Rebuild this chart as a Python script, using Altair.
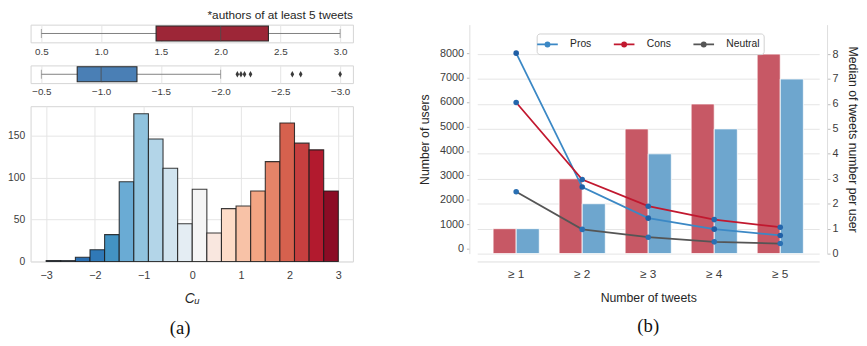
import altair as alt
import pandas as pd

# ---------------- data ----------------
# (a) top: box plots of C_u (authors of at least 5 tweets)
pos_stats = {"lo": 0.5, "q1": 1.46, "med": 2.0, "q3": 2.4, "hi": 3.0}
neg_stats = {"lo": -0.5, "q1": -0.8, "med": -1.0, "q3": -1.3, "hi": -2.0}
neg_fliers = [-2.14, -2.17, -2.2, -2.25, -2.6, -2.67, -3.0]
pos_ticks = [0.5, 1.0, 1.5, 2.0, 2.5, 3.0]
neg_ticks = [-0.5, -1.0, -1.5, -2.0, -2.5, -3.0]

# (a) bottom: histogram of C_u
bin_lo = [-3.0, -2.7, -2.4, -2.1, -1.8, -1.5, -1.2, -0.9, -0.6, -0.3,
          0.0, 0.3, 0.6, 0.9, 1.2, 1.5, 1.8, 2.1, 2.4, 2.7]
bin_hi = [-2.7, -2.4, -2.1, -1.8, -1.5, -1.2, -0.9, -0.6, -0.3, 0.0,
          0.3, 0.6, 0.9, 1.2, 1.5, 1.8, 2.1, 2.4, 2.7, 3.0]
bin_count = [1, 1, 5, 14, 32, 95, 176, 146, 111, 45,
             86, 34, 63, 66, 84, 119, 165, 141, 133, 84]

# (b)
tweet_bins = ["≥ 1", "≥ 2", "≥ 3", "≥ 4", "≥ 5"]
users_pros = [8000, 2520, 1250, 800, 540]
users_cons = [5980, 2830, 1740, 1190, 880]
users_neutral = [2330, 790, 470, 280, 210]
median_cons = [1, 3, 5, 6, 8]
median_pros = [1, 2, 4, 5, 7]

# ---------------- styles ----------------
FONT = "Liberation Sans"
LBL = "#3c3c3c"
TTL = "#262626"
GRID = "#e4e4e4"
hist_palette = ["#1f5fa6", "#2466ac", "#2a6fb2", "#3079b7", "#4393c3",
                "#6aabd4", "#90c3de", "#b3d5e8", "#d1e4ef", "#e4edf3",
                "#f5f5f5", "#f9e7df", "#fddcc8", "#f8c2a7", "#f3a583",
                "#e58468", "#d6614e", "#c63f3f", "#b21a2e", "#8c0c25"]
BOX_RED = "#9d2637"
BOX_BLUE = "#4a7fb5"
BAR_RED = "#c75865"
BAR_BLUE = "#6ea6ce"
LINE_COLORS = ["#3b88c5", "#c1182f", "#555555"]
SERIES = ["Pros", "Cons", "Neutral"]

W_L, H_BOX, H_HIST = 328, 18, 158
W_R, H_R = 348, 233


def box_panel(stats, fliers, fill, domain, reverse, ticks, title=None):
    df = pd.DataFrame([dict(stats, g="g")])
    xs = alt.Scale(domain=domain, reverse=reverse, nice=False, zero=False)
    ys = alt.Scale(domain=["g"], paddingInner=0, paddingOuter=0.09)
    xaxis = alt.Axis(values=ticks, format=".1f", grid=True, gridColor=GRID,
                     ticks=False, domain=False, labelPadding=4, labelFontSize=10,
                     labelColor=LBL, title=None)
    y = alt.Y("g:N", scale=ys, axis=None)
    base = alt.Chart(df)
    whisker = base.mark_rule(color="#808080", strokeWidth=1).encode(
        x=alt.X("lo:Q", scale=xs, axis=xaxis), x2="hi:Q", y=y)
    cap_lo = base.mark_tick(color="#808080", size=9, thickness=1).encode(
        x=alt.X("lo:Q", scale=xs, axis=xaxis), y=y)
    cap_hi = base.mark_tick(color="#808080", size=9, thickness=1).encode(
        x=alt.X("hi:Q", scale=xs, axis=xaxis), y=y)
    box = base.mark_bar(fill=fill, stroke="#2a2a2a", strokeWidth=1.1).encode(
        x=alt.X("q1:Q", scale=xs, axis=xaxis), x2="q3:Q", y=y)
    med = base.mark_tick(color="#4d4d4d", size=15, thickness=1.2).encode(
        x=alt.X("med:Q", scale=xs, axis=xaxis), y=y)
    layers = [whisker, cap_lo, cap_hi, box, med]
    if fliers:
        fdf = pd.DataFrame({"v": fliers, "g": ["g"] * len(fliers)})
        pts = alt.Chart(fdf).mark_point(
            shape="M0,-1L0.55,0L0,1L-0.55,0Z", filled=True, color="#3a3a3a",
            size=45, opacity=1).encode(x=alt.X("v:Q", scale=xs, axis=xaxis), y=y)
        layers.append(pts)
    ch = alt.layer(*layers).properties(width=W_L, height=H_BOX)
    if title:
        ch = ch.properties(title=alt.TitleParams(
            title, anchor="end", fontSize=12, fontWeight="normal", font=FONT,
            color=TTL, offset=3))
    return ch


box1 = box_panel(pos_stats, None, BOX_RED, [0.41, 3.107], False, pos_ticks,
                 title="*authors of at least 5 tweets")
box2 = box_panel(neg_stats, neg_fliers, BOX_BLUE, [-3.107, -0.41], True, neg_ticks)

hist_df = pd.DataFrame({"lo": bin_lo, "hi": bin_hi, "n": bin_count})
hist = alt.Chart(hist_df).mark_bar(
    stroke="#1a1a1a", strokeWidth=1.1, strokeOpacity=0.85).encode(
    x=alt.X("lo:Q", scale=alt.Scale(domain=[-3.32, 3.30], nice=False, zero=False),
            axis=alt.Axis(values=[-3, -2, -1, 0, 1, 2, 3], format="d", grid=True,
                          gridColor=GRID, ticks=False, domain=False, labelPadding=8,
                          labelFontSize=11, labelColor=LBL, title="Cᵤ",
                          titleFontStyle="italic", titleFontSize=14,
                          titleFontWeight="normal", titleColor=TTL,
                          titlePadding=12)),
    x2="hi:Q",
    y=alt.Y("n:Q", scale=alt.Scale(domain=[0, 185], nice=False),
            axis=alt.Axis(values=[0, 50, 100, 150], grid=True, gridColor=GRID,
                          ticks=False, domain=False, labelPadding=6,
                          labelFontSize=10.5, labelColor=LBL, title=None)),
    y2=alt.datum(0),
    fill=alt.Fill("lo:O", scale=alt.Scale(domain=bin_lo, range=hist_palette),
                  legend=None),
).properties(width=W_L, height=H_HIST)

left = alt.vconcat(
    box1, box2, hist, spacing=23.5, bounds="flush",
    title=alt.TitleParams("(a)", orient="bottom", anchor="middle",
                          font="Liberation Serif", fontSize=19,
                          fontWeight="normal", color="#111111", offset=13))

# ---------------- (b) ----------------
users_df = pd.DataFrame({
    "cat": tweet_bins * 3,
    "series": ["Pros"] * 5 + ["Cons"] * 5 + ["Neutral"] * 5,
    "users": users_pros + users_cons + users_neutral,
})
med_df = pd.DataFrame({
    "cat": tweet_bins * 2,
    "series": ["Cons"] * 5 + ["Pros"] * 5,
    "median": median_cons + median_pros,
})

xs = alt.Scale(domain=tweet_bins, paddingInner=0.3, paddingOuter=0.24)
x_axis = alt.Axis(title="Number of tweets", labelFontSize=12, labelAngle=0,
                  ticks=False, domain=True, domainColor="#dddddd", offset=8,
                  labelPadding=7, titlePadding=13, titleFontSize=12.5,
                  titleFontWeight="normal", labelColor=LBL, titleColor=TTL)
yR = alt.Scale(domain=[0, 9.18], nice=False, zero=False)
yL = alt.Scale(domain=[-201, 9166], nice=False, zero=False)
right_axis = alt.Axis(orient="right", values=list(range(0, 9)), format="d",
                      offset=8, tickSize=3, tickColor="#bbbbbb", labelPadding=2,
                      domain=True, domainColor="#dddddd", grid=True,
                      gridColor=GRID, labelFontSize=11, labelColor=LBL,
                      title="Median of tweets number per user", titleFontSize=12.5,
                      titleFontWeight="normal", titleColor=TTL, titlePadding=8)
left_axis = alt.Axis(orient="left", values=list(range(0, 9000, 1000)), format="d",
                     offset=8, tickSize=3, tickColor="#bbbbbb", labelPadding=3,
                     domain=True, domainColor="#dddddd", grid=False,
                     labelFontSize=11, labelColor=LBL, title="Number of users",
                     titleFontSize=12.5, titleFontWeight="normal",
                     titleColor=TTL, titlePadding=8)
xoff = alt.XOffset("series:N", scale=alt.Scale(domain=["Cons", "Pros"],
                                               paddingInner=0, paddingOuter=0))

bars_base = alt.Chart(med_df).encode(
    x=alt.X("cat:N", scale=xs, axis=x_axis, sort=tweet_bins),
    xOffset=xoff,
    y=alt.Y("median:Q", scale=yR, axis=right_axis),
)
bars_cons = bars_base.transform_filter("datum.series == 'Cons'").mark_bar(
    color=BAR_RED, stroke="white", strokeWidth=0.8)
bars_pros = bars_base.transform_filter("datum.series == 'Pros'").mark_bar(
    color=BAR_BLUE, stroke="white", strokeWidth=0.8)
bars = alt.layer(bars_cons, bars_pros)

# legend glyph: a short line with a (stroke-filled) dot in the middle
LEG_SYM = ("M-1.75,0L1.75,0"
           "M0.35,0A0.35,0.35,0,1,1,-0.35,0A0.35,0.35,0,1,1,0.35,0"
           "M0.12,0A0.12,0.12,0,1,1,-0.12,0A0.12,0.12,0,1,1,0.12,0")
legend = alt.Legend(orient="none", legendX=515, legendY=9,
                    direction="horizontal", title=None, symbolType=LEG_SYM,
                    symbolSize=144, symbolStrokeWidth=1.8, labelFontSize=10.5,
                    labelColor=TTL, labelOffset=16, columnPadding=18, padding=4,
                    strokeColor="#d0d0d0", fillColor="white", cornerRadius=3)
line_scale = alt.Scale(domain=SERIES, range=LINE_COLORS)

lines_base = alt.Chart(users_df).encode(
    x=alt.X("cat:N", scale=xs, axis=x_axis, sort=tweet_bins),
    y=alt.Y("users:Q", scale=yL, axis=left_axis),
)
lines = lines_base.mark_line(strokeWidth=1.8).encode(
    color=alt.Color("series:N", scale=line_scale, legend=legend))
dots = lines_base.mark_point(filled=True, size=32, opacity=1).encode(
    fill=alt.Fill("series:N", scale=line_scale, legend=legend))
line_group = alt.layer(lines, dots)

right = alt.layer(bars, line_group).resolve_scale(y="independent").properties(
    width=W_R, height=H_R,
    view=alt.ViewBackground(strokeWidth=0),
    title=alt.TitleParams("(b)", orient="bottom", anchor="middle",
                          font="Liberation Serif", fontSize=19,
                          fontWeight="normal", color="#111111", offset=13))

chart = alt.hconcat(left, right, spacing=65.5).properties(
    padding={"left": -2, "top": -3, "right": 0, "bottom": 0}
).configure(font=FONT).configure_view(stroke="#d4d4d4", strokeWidth=1)

chart.save("out.html", embed_options={"renderer": "svg", "actions": False})
